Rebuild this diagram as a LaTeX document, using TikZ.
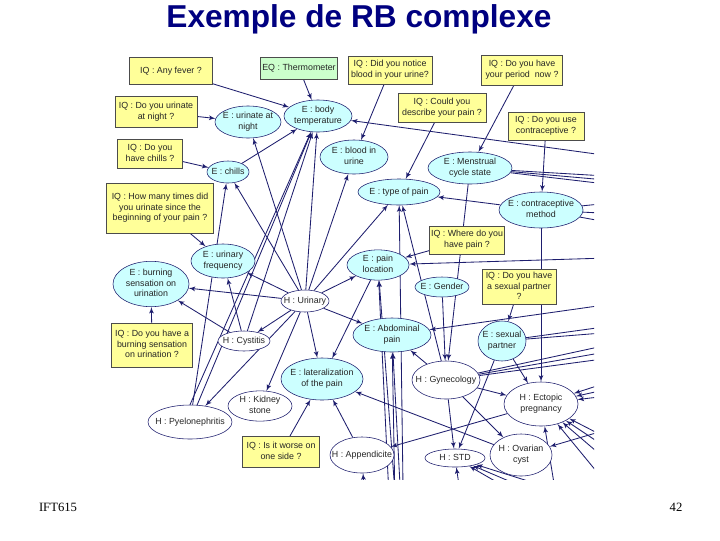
\documentclass[tikz,border=0pt]{standalone}
\usepackage{fontspec}
\setmainfont{Liberation Sans}
\newfontfamily\footfont{Liberation Serif}
\usetikzlibrary{arrows, shapes.geometric, backgrounds}

\definecolor{navyline}{RGB}{30,30,110}
\definecolor{evfill}{RGB}{204,255,255}
\definecolor{iqfill}{RGB}{255,255,153}
\definecolor{eqfill}{RGB}{204,255,204}
\definecolor{titleblue}{RGB}{0,0,128}
\newcommand{\ztxt}[1]{\makebox[0pt]{\begin{tabular}{@{}c@{}}#1\end{tabular}}}
\pgfdeclarelayer{bottom}
\pgfsetlayers{bottom,background,main}

\begin{document}
\begin{tikzpicture}[x=0.025cm, y=-0.025cm]
		\tikzset{iqbox/.style = {shape=rectangle, draw=black!70, fill=iqfill, inner sep=0pt, text=black!85, font=\fontsize{6.3}{7.6}\selectfont}}
		\tikzset{eqbox/.style = {iqbox, fill=eqfill}}
		\tikzset{evid/.style = {shape=ellipse, draw=navyline, fill=evfill, inner sep=0pt, text=black!85, font=\fontsize{6.3}{7.6}\selectfont}}
		\tikzset{hypo/.style = {evid, fill=white}}
		\tikzset{edge/.style = {-{latex'[scale=1.5]}, color=navyline, line width=0.6pt}}

		\useasboundingbox (0,0) rectangle (720,540);
		\begin{pgfonlayer}{bottom}
			\fill[white] (0,0) rectangle (720,540);
		\end{pgfonlayer}

		\node[font=\bfseries\fontsize{22.5}{26}\selectfont, text=titleblue] (title) at (359,19) {Exemple de RB complexe};
		\node[font=\footfont\fontsize{9}{10}\selectfont] (course) at (58,507) {IFT615};
		\node[font=\footfont\fontsize{9}{10}\selectfont] (page) at (676,507) {42};

		% questions
		\node[iqbox, minimum width=2.08cm, minimum height=0.68cm] (qfever) at (171,71) {\ztxt{IQ : Any fever ?}};
		\node[eqbox, minimum width=1.93cm, minimum height=0.55cm] (qthermo) at (299,68) {\ztxt{EQ : Thermometer}};
		\node[iqbox, minimum width=2.1cm, minimum height=0.7cm] (qblood) at (390,70) {\ztxt{IQ : Did you notice\\blood in your urine?}};
		\node[iqbox, minimum width=2.03cm, minimum height=0.75cm] (qperiod) at (522,70) {\ztxt{IQ : Do you have\\your period~ now ?}};
		\node[iqbox, minimum width=2.2cm, minimum height=0.73cm] (qpain) at (442,108) {\ztxt{IQ : Could you\\describe your pain ?}};
		\node[iqbox, minimum width=2.05cm, minimum height=0.78cm] (qnight) at (156,112) {\ztxt{IQ : Do you urinate\\at night ?}};
		\node[iqbox, minimum width=1.9cm, minimum height=0.7cm] (qcontra) at (546,126) {\ztxt{IQ : Do you use\\contraceptive ?}};
		\node[iqbox, minimum width=1.63cm, minimum height=0.73cm] (qchills) at (150,154) {\ztxt{IQ : Do you\\have chills ?}};
		\node[iqbox, minimum width=2.68cm, minimum height=1.25cm] (qfreq) at (160,208) {\ztxt{IQ : How many times did\\you urinate since the\\beginning of your pain ?}};
		\node[iqbox, minimum width=1.88cm, minimum height=0.7cm] (qwhere) at (467,240) {\ztxt{IQ : Where do you\\have pain ?}};
		\node[iqbox, minimum width=1.85cm, minimum height=0.88cm] (qpartner) at (519,287) {\ztxt{IQ : Do you have\\a sexual partner\\?}};
		\node[iqbox, minimum width=2.03cm, minimum height=1.1cm] (qburn) at (152,345) {\ztxt{IQ : Do you have a\\burning sensation\\on urination ?}};
		\node[iqbox, minimum width=1.93cm, minimum height=0.78cm] (qside) at (281,452) {\ztxt{IQ : Is it worse on\\one side ?}};

		% evidence
		\node[evid, minimum width=1.65cm, minimum height=0.8cm] (enight) at (248,122) {\ztxt{E : urinate at\\night}};
		\node[evid, minimum width=1.7cm, minimum height=0.8cm] (etemp) at (318,116) {\ztxt{E : body\\temperature}};
		\node[evid, minimum width=1.05cm, minimum height=0.55cm] (echills) at (228,172) {\ztxt{E : chills}};
		\node[evid, minimum width=1.7cm, minimum height=0.85cm] (eblood) at (354,157) {\ztxt{E : blood in\\urine}};
		\node[evid, minimum width=2.1cm, minimum height=0.8cm] (ecycle) at (470,168) {\ztxt{E : Menstrual\\cycle state}};
		\node[evid, minimum width=2.05cm, minimum height=0.65cm] (etype) at (399,192) {\ztxt{E : type of pain}};
		\node[evid, minimum width=2.1cm, minimum height=0.9cm] (econtra) at (541,210) {\ztxt{E : contraceptive\\method}};
		\node[evid, minimum width=1.6cm, minimum height=0.85cm] (efreq) at (223,261) {\ztxt{E : urinary\\frequency}};
		\node[evid, minimum width=1.9cm, minimum height=1.05cm] (eburn) at (151,284) {\ztxt{E : burning\\sensation on\\urination}};
		\node[evid, minimum width=1.55cm, minimum height=0.75cm] (eloc) at (378,265) {\ztxt{E : pain\\location}};
		\node[evid, minimum width=1.35cm, minimum height=0.5cm] (egender) at (442,287) {\ztxt{E : Gender}};
		\node[evid, minimum width=1.95cm, minimum height=0.85cm] (eabdo) at (392,335) {\ztxt{E : Abdominal\\pain}};
		\node[evid, minimum width=1.2cm, minimum height=1.0cm] (epartner) at (502,341) {\ztxt{E : sexual\\partner}};
		\node[evid, minimum width=2.05cm, minimum height=1.05cm] (elat) at (322,379) {\ztxt{E : lateralization\\of the pain}};

		% hypotheses
		\node[hypo, minimum width=1.2cm, minimum height=0.55cm] (hurin) at (305,301) {\ztxt{H : Urinary}};
		\node[hypo, minimum width=1.3cm, minimum height=0.5cm] (hcyst) at (244,341) {\ztxt{H : Cystitis}};
		\node[hypo, minimum width=1.6cm, minimum height=0.75cm] (hkidney) at (260,406) {\ztxt{H : Kidney\\stone}};
		\node[hypo, minimum width=2.1cm, minimum height=0.85cm] (hpyelo) at (190,422) {\ztxt{H : Pyelonephritis}};
		\node[hypo, minimum width=1.7cm, minimum height=0.95cm] (hgyn) at (446,380) {\ztxt{H : Gynecology}};
		\node[hypo, minimum width=1.85cm, minimum height=1.1cm] (hecto) at (541,404) {\ztxt{H : Ectopic\\pregnancy}};
		\node[hypo, minimum width=1.6cm, minimum height=0.9cm] (happ) at (362,455) {\ztxt{H : Appendicite}};
		\node[hypo, minimum width=1.5cm, minimum height=0.45cm] (hstd) at (455,458) {\ztxt{H : STD}};
		\node[hypo, minimum width=1.55cm, minimum height=1.05cm] (hovar) at (521,455) {\ztxt{H : Ovarian\\cyst}};

		% ends of links that leave the cut
		\coordinate (rtemp) at (640,160);
		\coordinate (rcycA) at (640,178);
		\coordinate (rcycB) at (640,183);
		\coordinate (rcycC) at (640,188);
		\coordinate (rconA) at (640,200);
		\coordinate (rconB) at (640,215);
		\coordinate (rconC) at (640,228);
		\coordinate (rloc) at (640,257);
		\coordinate (rabdo) at (640,300);
		\coordinate (rparA) at (640,322);
		\coordinate (rparB) at (640,330);
		\coordinate (rgynA) at (640,338);
		\coordinate (rgynB) at (640,346);
		\coordinate (rgynC) at (640,354);
		\coordinate (rectA) at (640,372);
		\coordinate (rectB) at (640,382);
		\coordinate (rectC) at (640,392);
		\coordinate (rectD) at (640,455);
		\coordinate (rectE) at (630,480);
		\coordinate (rectF) at (620,500);
		\coordinate (rectG) at (640,470);
		\coordinate (rovar) at (640,420);
		\coordinate (rstdA) at (620,510);
		\coordinate (rstdB) at (600,520);
		\coordinate (rstdC) at (580,530);
		\coordinate (bloc) at (392,560);
		\coordinate (blocB) at (400,560);
		\coordinate (babdo) at (396,560);
		\coordinate (babdoB) at (404,560);
		\coordinate (btype) at (404,560);
		\coordinate (bapp) at (368,560);
		\coordinate (bstd) at (470,560);
		\coordinate (becto) at (560,520);

		\begin{pgfonlayer}{background}
		\begin{scope}
			\clip (107,50) rectangle (594,479);
			\draw[edge] (qfever) -- (etemp);
			\draw[edge] (qthermo) -- (etemp);
			\draw[edge] (qblood) -- (eblood);
			\draw[edge] (qperiod) -- (ecycle);
			\draw[edge] (qpain) -- (etype);
			\draw[edge] (qnight) -- (enight);
			\draw[edge] (qcontra) -- (econtra);
			\draw[edge] (qchills) -- (echills);
			\draw[edge] (qfreq) -- (efreq);
			\draw[edge] (qwhere) -- (eloc);
			\draw[edge] (qpartner) -- (epartner);
			\draw[edge] (qburn) -- (eburn);
			\draw[edge] (qside) -- (elat);

			\draw[edge] (echills) -- (etemp);
			\draw[edge] (hurin) -- (efreq);
			\draw[edge] (hurin) -- (eburn);
			\draw[edge] (hurin) -- (echills);
			\draw[edge] (hurin) -- (enight);
			\draw[edge] (hurin) -- (etemp);
			\draw[edge] (hurin) -- (eblood);
			\draw[edge] (hurin) -- (etype);
			\draw[edge] (hurin) -- (eloc);
			\draw[edge] (hurin) -- (eabdo);
			\draw[edge] (hurin) -- (elat);
			\draw[edge] (hurin) -- (hcyst);
			\draw[edge] (hurin) -- (hkidney);
			\draw[edge] (hurin) -- (hpyelo);
			\draw[edge] (hcyst) -- (efreq);
			\draw[edge] (hcyst) -- (eburn);
			\draw[edge] (hcyst) -- (etemp);
			\draw[edge] (hpyelo) -- (echills);
			\draw[edge] (hpyelo) -- (etemp);
			\draw[edge] (hpyelo.north) -- (etemp);
			\draw[edge] (eloc) -- (elat);

			\draw[edge] (hgyn) -- (eabdo);
			\draw[edge] (hgyn) -- (etype);
			\draw[edge] (hgyn) -- (hecto);
			\draw[edge] (hgyn) -- (hstd);
			\draw[edge] (hgyn) -- (hovar);
			\draw[edge] (egender) -- (hgyn);
			\draw[edge] (ecycle) -- (hgyn);
			\draw[edge] (econtra) -- (etype);
			\draw[edge] (econtra) -- (hecto);
			\draw[edge] (epartner) -- (hecto);
			\draw[edge] (epartner) -- (hstd);
			\draw[edge] (hovar) -- (elat);
			\draw[edge] (hecto) -- (happ);
			\draw[edge] (happ) -- (elat);

			\draw[edge] (rtemp) -- (etemp);
			\draw[edge] (ecycle) -- (rcycA);
			\draw[edge] (ecycle) -- (rcycB);
			\draw[edge] (ecycle) -- (rcycC);
			\draw[edge] (econtra) -- (rconA);
			\draw[edge] (econtra) -- (rconB);
			\draw[edge] (econtra) -- (rconC);
			\draw[edge] (rloc) -- (eloc);
			\draw[edge] (rabdo) -- (eabdo);
			\draw[edge] (epartner) -- (rparA);
			\draw[edge] (epartner) -- (rparB);
			\draw[edge] (hgyn) -- (rgynA);
			\draw[edge] (hgyn) -- (rgynB);
			\draw[edge] (hgyn) -- (rgynC);
			\draw[edge] (rectA) -- (hecto);
			\draw[edge] (rectB) -- (hecto);
			\draw[edge] (rectC) -- (hecto);
			\draw[edge] (rectD) -- (hecto);
			\draw[edge] (rectE) -- (hecto);
			\draw[edge] (rectF) -- (hecto);
			\draw[edge] (rectG) -- (hecto);
			\draw[edge] (becto) -- (hecto);
			\draw[edge] (rovar) -- (hovar);
			\draw[edge] (rstdA) -- (hstd);
			\draw[edge] (rstdB) -- (hstd);
			\draw[edge] (rstdC) -- (hstd);
			\draw[edge] (bstd) -- (hstd);
			\draw[edge] (bloc) -- (eloc);
			\draw[edge] (blocB) -- (eloc);
			\draw[edge] (babdo) -- (eabdo);
			\draw[edge] (babdoB) -- (eabdo);
			\draw[edge] (btype) -- (etype);
			\draw[edge] (bapp) -- (happ);
		\end{scope}
		\end{pgfonlayer}

	\end{tikzpicture}
\end{document}
